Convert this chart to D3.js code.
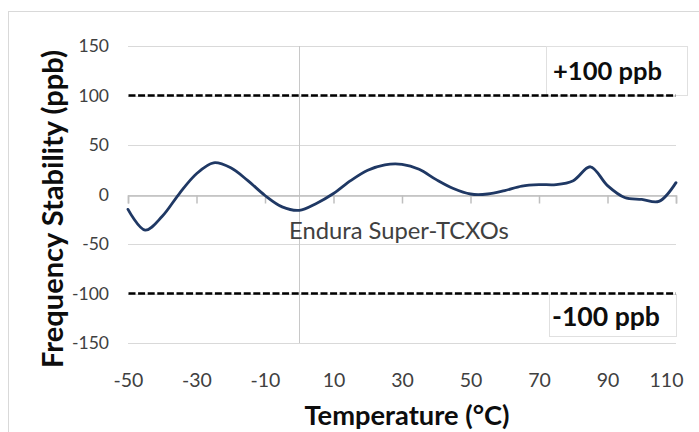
<!DOCTYPE html>
<html>
<head>
<meta charset="utf-8">
<script src="https://cdn.jsdelivr.net/npm/d3@7"></script>
<style>
  html, body { margin: 0; padding: 0; background: #ffffff; }
  svg { display: block; }
  text { font-family: Lato, "Open Sans", sans-serif; }
</style>
</head>
<body>
<svg id="chart" width="699" height="432"></svg>
<script>
// ---- data ----
const temperatures = [-50, -45, -40, -35, -30, -25, -20, -15, -10, -5, 0, 5, 10, 15, 20, 25, 30, 35, 40, 45, 50, 55, 60, 65, 70, 75, 80, 85, 90, 95, 100, 105, 110];
const stability    = [-15, -36, -22, 1, 21, 32, 27, 14, -1, -12.5, -16, -9, 1, 14, 24.5, 30, 30.5, 25.5, 15, 6, 0.5, 0.5, 4, 8.5, 10, 10, 14, 28, 9, -3, -5, -7, 12];
const limitValues  = [100, -100];
const limitLabels  = ["+100 ppb", "-100 ppb"];
const xTicks = [-50, -30, -10, 10, 30, 50, 70, 90, 110];
const yTicks = [-150, -100, -50, 0, 50, 100, 150];
const xTitle = "Temperature (°C)";
const yTitle = "Frequency Stability (ppb)";
const seriesLabel = "Endura Super-TCXOs";

// ---- layout ----
const svg = d3.select("#chart");
const x = d3.scaleLinear().domain([-50, 110]).range([128, 676]);
const y = d3.scaleLinear().domain([-150, 150]).range([343, 46]);

function fit(sel, target) {
  const w = sel.node().getComputedTextLength();
  const fs = parseFloat(sel.attr("font-size"));
  sel.attr("font-size", (fs * target / w).toFixed(2));
}

// outer chart border
svg.append("rect")
  .attr("x", 8.5).attr("y", 11.5)
  .attr("width", 720).attr("height", 440)
  .attr("fill", "#fff").attr("stroke", "#d9d9d9").attr("stroke-width", 1);

// horizontal gridlines
svg.append("g").selectAll("line").data(yTicks).join("line")
  .attr("x1", x(-50)).attr("x2", x(110))
  .attr("y1", d => Math.round(y(d)) + 0.5).attr("y2", d => Math.round(y(d)) + 0.5)
  .attr("stroke", "#d9d9d9").attr("stroke-width", 1);

// vertical axis line at 0
svg.append("line")
  .attr("x1", Math.round(x(0)) + 0.5).attr("x2", Math.round(x(0)) + 0.5)
  .attr("y1", y(150)).attr("y2", y(-150))
  .attr("stroke", "#c8c8c8").attr("stroke-width", 1);

// x axis line at y=0 with ticks
const xAxisG = svg.append("g")
  .attr("transform", `translate(0,${Math.round(y(0)) + 0.5})`)
  .call(d3.axisBottom(x).tickValues(xTicks).tickSize(8).tickFormat(""));
xAxisG.select(".domain").attr("stroke", "#bfbfbf").attr("stroke-width", 1.5);
xAxisG.selectAll(".tick line").attr("stroke", "#bfbfbf").attr("stroke-width", 1.5);

// x tick labels at bottom
const xLab = svg.append("g")
  .attr("transform", `translate(0,${y(-150)})`)
  .call(d3.axisBottom(x).tickValues(xTicks).tickSize(0).tickPadding(0).tickFormat(d => d < 0 ? "-" + Math.abs(d) : d));
xLab.select(".domain").remove();
xLab.selectAll("text")
  .attr("font-family", "Lato, sans-serif")
  .attr("font-size", 19.5)
  .attr("fill", "#404040")
  .attr("y", 44).attr("dy", 0)
  .attr("dx", d => d === 110 ? -10 : 0);

// y tick labels
const yLab = svg.append("g")
  .attr("transform", `translate(${x(-50)},0)`)
  .call(d3.axisLeft(y).tickValues(yTicks).tickSize(0).tickPadding(19).tickFormat(d => d < 0 ? "-" + Math.abs(d) : d));
yLab.select(".domain").remove();
yLab.selectAll("text")
  .attr("font-family", "Lato, sans-serif")
  .attr("font-size", 17.5)
  .attr("fill", "#404040");

// limit label boxes
const boxes = [
  {x0: 546, x1: 687, y0: 46, y1: 95},
  {x0: 549, x1: 676, y0: 294, y1: 336}
];
svg.append("g").selectAll("rect").data(boxes).join("rect")
  .attr("x", d => d.x0 + 0.5).attr("y", d => d.y0 + 0.5)
  .attr("width", d => d.x1 - d.x0).attr("height", d => d.y1 - d.y0)
  .attr("fill", "#fff").attr("stroke", "#e0e0e0").attr("stroke-width", 1);

// dashed limit lines
svg.append("g").selectAll("line").data(limitValues).join("line")
  .attr("x1", x(-50) + 0.5).attr("x2", x(110))
  .attr("y1", d => y(d)).attr("y2", d => y(d))
  .attr("stroke", "#000").attr("stroke-width", 2.6)
  .attr("stroke-dasharray", "7,2.6");

// limit labels
const limBaselines = [80, 326];
limitLabels.forEach((t, i) => {
  const s = svg.append("text")
    .attr("x", i === 0 ? 553 : 552)
    .attr("y", limBaselines[i])
    .attr("font-family", "Lato, sans-serif")
    .attr("font-weight", "bold")
    .attr("font-size", 24)
    .attr("fill", "#0d0d0d")
    .text(t);
  fit(s, i === 0 ? 109 : 108);
});

// series label
const sl = svg.append("text")
  .attr("x", 289).attr("y", 239)
  .attr("font-family", "Lato, sans-serif")
  .attr("font-size", 22)
  .attr("fill", "#404040")
  .text(seriesLabel);
fit(sl, 220);

// data line
const pts = temperatures.map((t, i) => [t, stability[i]]);
svg.append("path")
  .datum(pts)
  .attr("d", d3.line().x(d => x(d[0])).y(d => y(d[1])).curve(d3.curveCatmullRom.alpha(0.5)))
  .attr("fill", "none")
  .attr("stroke", "#1f3864")
  .attr("stroke-width", 2.8)
  .attr("stroke-linejoin", "round")
  .attr("stroke-linecap", "round");

// axis titles
const xt = svg.append("text")
  .attr("x", 407).attr("y", 425)
  .attr("text-anchor", "middle")
  .attr("font-family", "Lato, sans-serif")
  .attr("font-weight", "bold")
  .attr("font-size", 24)
  .attr("fill", "#0d0d0d")
  .text(xTitle);
fit(xt, 205);

const yt = svg.append("text")
  .attr("transform", "translate(63,209) rotate(-90)")
  .attr("text-anchor", "middle")
  .attr("font-family", "Lato, sans-serif")
  .attr("font-weight", "bold")
  .attr("font-size", 24)
  .attr("fill", "#0d0d0d")
  .text(yTitle);
fit(yt, 318);
</script>
</body>
</html>
